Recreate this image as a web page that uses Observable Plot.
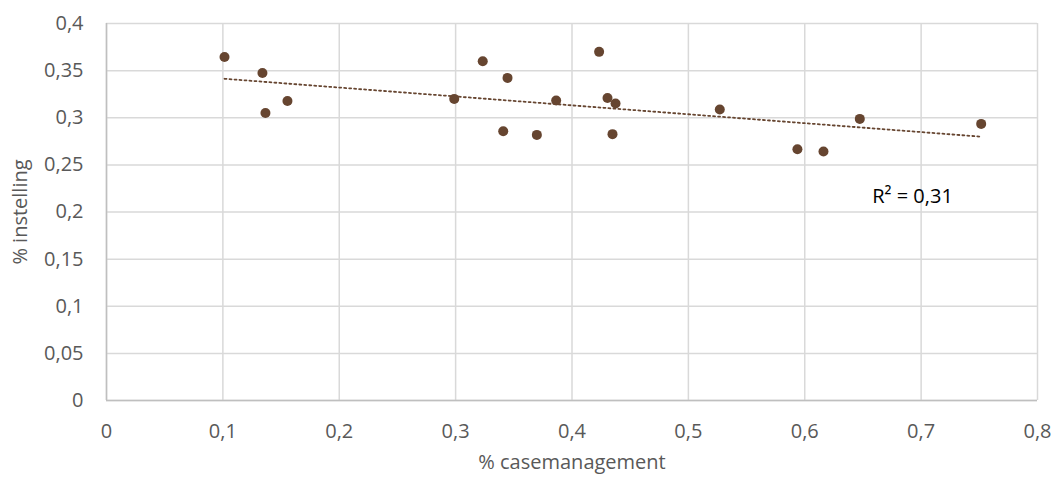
<!DOCTYPE html>
<html>
<head>
<meta charset="utf-8">
<script src="https://cdn.jsdelivr.net/npm/d3@7"></script>
<script src="https://cdn.jsdelivr.net/npm/@observablehq/plot@0.6"></script>
<style>
  html, body { margin: 0; padding: 0; background: #fff; }
  #chart svg { display: block; }
</style>
</head>
<body>
<div id="chart"></div>
<script>
const casemanagement = [0.1014, 0.134, 0.1366, 0.1555, 0.2988, 0.3233, 0.3446, 0.3409, 0.3698, 0.3864,
  0.4233, 0.4305, 0.4374, 0.4348, 0.527, 0.5937, 0.6161, 0.6473, 0.7516];
const instelling = [0.3645, 0.3475, 0.305, 0.3178, 0.32, 0.36, 0.3423, 0.2857, 0.2818, 0.3183,
  0.3699, 0.321, 0.3151, 0.2826, 0.3088, 0.2666, 0.2642, 0.2988, 0.2935];
const xTicks = [0, 0.1, 0.2, 0.3, 0.4, 0.5, 0.6, 0.7, 0.8];
const yTicks = [0, 0.05, 0.1, 0.15, 0.2, 0.25, 0.3, 0.35, 0.4];
const r2Label = "R² = 0,31";

const data = casemanagement.map((x, i) => ({x, y: instelling[i]}));
const fmt = d => String(d).replace(".", ",");
const font = "'Open Sans', 'Noto Sans', sans-serif";
const grid = "#d9d9d9";
const brown = "#664530";
const fs = 20;

const chart = Plot.plot({
  width: 1054,
  height: 477,
  marginLeft: 106,
  marginRight: 17,
  marginTop: 23,
  marginBottom: 77,
  style: {fontFamily: font, fontSize: fs + "px", color: "#595959", background: "#fff"},
  x: {domain: [0, 0.8], ticks: xTicks, tickFormat: fmt, label: null},
  y: {domain: [0, 0.4], ticks: yTicks, tickFormat: fmt, label: null},
  marks: [
    Plot.gridX(xTicks, {stroke: grid, strokeOpacity: 1, strokeWidth: 1.5}),
    Plot.gridY(yTicks, {stroke: grid, strokeOpacity: 1, strokeWidth: 1.5}),
    Plot.ruleY([0], {stroke: "#bfbfbf", strokeWidth: 1.5}),
    Plot.ruleX([0], {stroke: "#bfbfbf", strokeWidth: 1.5}),
    Plot.axisX({ticks: xTicks, tickFormat: fmt, tickSize: 0, tickPadding: 23, fontSize: fs, fill: "#595959", label: null}),
    Plot.axisY({ticks: yTicks, tickFormat: fmt, tickSize: 0, tickPadding: 23, fontSize: fs, fill: "#595959", label: null}),
    Plot.linearRegressionY(data, {x: "x", y: "y", ci: 0, stroke: brown, strokeWidth: 1.8, strokeDasharray: "2,3"}),
    Plot.dot(data, {x: "x", y: "y", r: 5, fill: brown, stroke: "none"}),
    Plot.text([r2Label], {x: 0.658, y: 0.2165, text: d => d, textAnchor: "start", fontSize: fs, fill: "#000"}),
    Plot.text(["% casemanagement"], {frameAnchor: "bottom", textAnchor: "middle", dy: 68, fontSize: fs, fill: "#595959"}),
    Plot.text(["% instelling"], {frameAnchor: "left", textAnchor: "middle", dx: -86, rotate: -90, fontSize: fs, fill: "#595959"})
  ]
});
document.getElementById("chart").appendChild(chart);
</script>
</body>
</html>
